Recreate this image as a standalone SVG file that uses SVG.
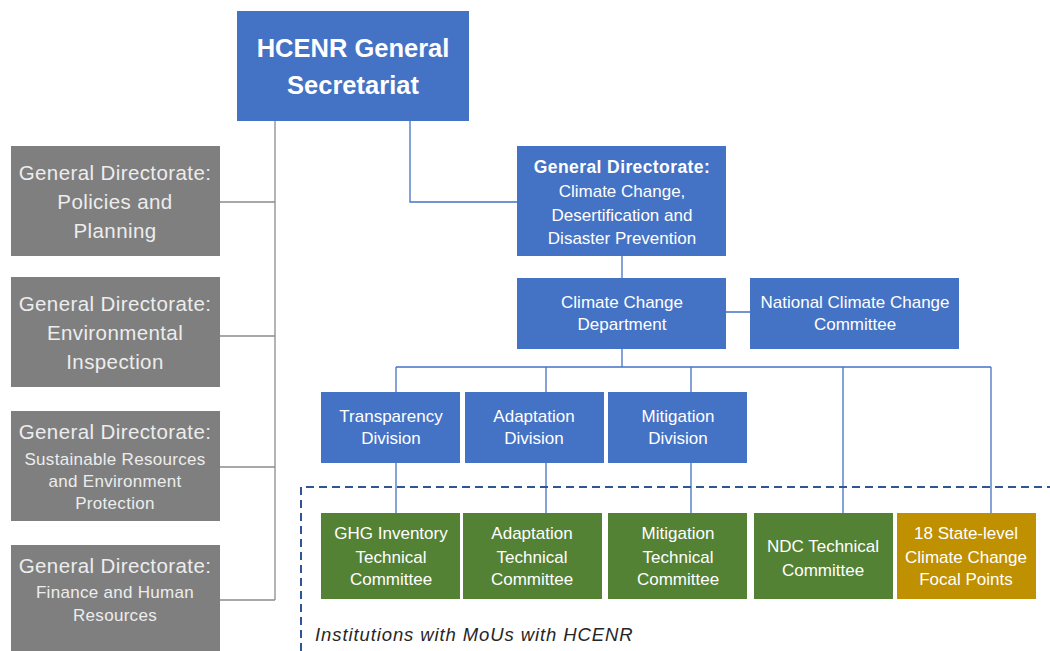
<svg xmlns="http://www.w3.org/2000/svg" width="1050" height="651" viewBox="0 0 1050 651">
<style>
.blue{fill:#4472C4}
.gray{fill:#7F7F7F}
.green{fill:#548235}
.gold{fill:#BF9000}
text{font-family:"Liberation Sans","Open Sans",Arial,sans-serif;text-anchor:middle;fill:#FFFFFF}
.g{fill:#EDEDED;font-size:20.5px;letter-spacing:0.4px}
.gs{fill:#EDEDED;font-size:17px;letter-spacing:0.3px}
.t{font-size:17px}
.gl{fill:none;stroke:#8C8C8C;stroke-width:1.3}
.bl{fill:none;stroke:#4472C4;stroke-width:1.3}
</style>
<rect width="1050" height="651" fill="#FFFFFF"/>
<g id="connectors">
<path class="gl" d="M275 121V600M220 202H275M220 336H275M220 467H275M220 600H275"/>
<path class="bl" d="M410 121V202H517M622 256V278M726 312H750M622 349V367M396 367H991M396 367V392M546 367V392M691 367V392M396 463V513M546 463V513M691 463V513M843 367V513M991 367V513"/>
<path d="M301 651V487H1050" fill="none" stroke="#2F5597" stroke-width="2" stroke-dasharray="8,5"/>
</g>
<g id="hcenr"><rect class="blue" x="237" y="11" width="232" height="110"/>
<text x="353" y="57" font-size="25.5" font-weight="bold">HCENR General</text>
<text x="353" y="94" font-size="25.5" font-weight="bold">Secretariat</text></g>
<g id="gd-policies"><rect class="gray" x="11" y="146" width="209" height="110"/>
<text class="g" x="115" y="180">General Directorate:</text>
<text class="g" x="115" y="209">Policies and</text>
<text class="g" x="115" y="238">Planning</text></g>
<g id="gd-inspection"><rect class="gray" x="11" y="277" width="209" height="110"/>
<text class="g" x="115" y="311">General Directorate:</text>
<text class="g" x="115" y="340">Environmental</text>
<text class="g" x="115" y="369">Inspection</text></g>
<g id="gd-sustainable"><rect class="gray" x="11" y="411" width="209" height="110"/>
<text class="g" x="115" y="439">General Directorate:</text>
<text class="gs" x="115" y="465">Sustainable Resources</text>
<text class="gs" x="115" y="487">and Environment</text>
<text class="gs" x="115" y="509">Protection</text></g>
<g id="gd-finance"><rect class="gray" x="11" y="545" width="209" height="110"/>
<text class="g" x="115" y="573">General Directorate:</text>
<text class="gs" x="115" y="598">Finance and Human</text>
<text class="gs" x="115" y="621">Resources</text></g>
<g id="gd-climate"><rect class="blue" x="517" y="146" width="209" height="110"/>
<text x="622" y="173" font-size="17.5" font-weight="bold" letter-spacing="0.4">General Directorate:</text>
<text class="t" x="622" y="197">Climate Change,</text>
<text class="t" x="622" y="221">Desertification and</text>
<text class="t" x="622" y="244">Disaster Prevention</text></g>
<g id="cc-dept"><rect class="blue" x="517" y="278" width="209" height="71"/>
<text class="t" x="622" y="308">Climate Change</text>
<text class="t" x="622" y="330">Department</text></g>
<g id="nccc"><rect class="blue" x="750" y="278" width="209" height="71"/>
<text class="t" x="855" y="308">National Climate Change</text>
<text class="t" x="855" y="330">Committee</text></g>
<g id="transparency"><rect class="blue" x="321" y="392" width="139" height="71"/>
<text class="t" x="391" y="422">Transparency</text>
<text class="t" x="391" y="444">Division</text></g>
<g id="adaptation"><rect class="blue" x="465" y="392" width="139" height="71"/>
<text class="t" x="534" y="422">Adaptation</text>
<text class="t" x="534" y="444">Division</text></g>
<g id="mitigation"><rect class="blue" x="608" y="392" width="139" height="71"/>
<text class="t" x="678" y="422">Mitigation</text>
<text class="t" x="678" y="444">Division</text></g>
<g id="ghg"><rect class="green" x="321" y="513" width="139" height="86"/>
<text class="t" x="391" y="539">GHG Inventory</text>
<text class="t" x="391" y="563">Technical</text>
<text class="t" x="391" y="585">Committee</text></g>
<g id="adapt-tc"><rect class="green" x="463" y="513" width="139" height="86"/>
<text class="t" x="532" y="539">Adaptation</text>
<text class="t" x="532" y="563">Technical</text>
<text class="t" x="532" y="585">Committee</text></g>
<g id="mitig-tc"><rect class="green" x="608" y="513" width="139" height="86"/>
<text class="t" x="678" y="539">Mitigation</text>
<text class="t" x="678" y="563">Technical</text>
<text class="t" x="678" y="585">Committee</text></g>
<g id="ndc-tc"><rect class="green" x="754" y="513" width="139" height="86"/>
<text class="t" x="823" y="552">NDC Technical</text>
<text class="t" x="823" y="576">Committee</text></g>
<g id="focal"><rect class="gold" x="897" y="513" width="139" height="86"/>
<text class="t" x="966" y="539">18 State-level</text>
<text class="t" x="966" y="563">Climate Change</text>
<text class="t" x="966" y="585">Focal Points</text></g>
<g id="label"><text x="315" y="641" font-size="18.5" font-style="italic" letter-spacing="0.9" style="text-anchor:start;fill:#262626">Institutions with MoUs with HCENR</text></g>
</svg>
